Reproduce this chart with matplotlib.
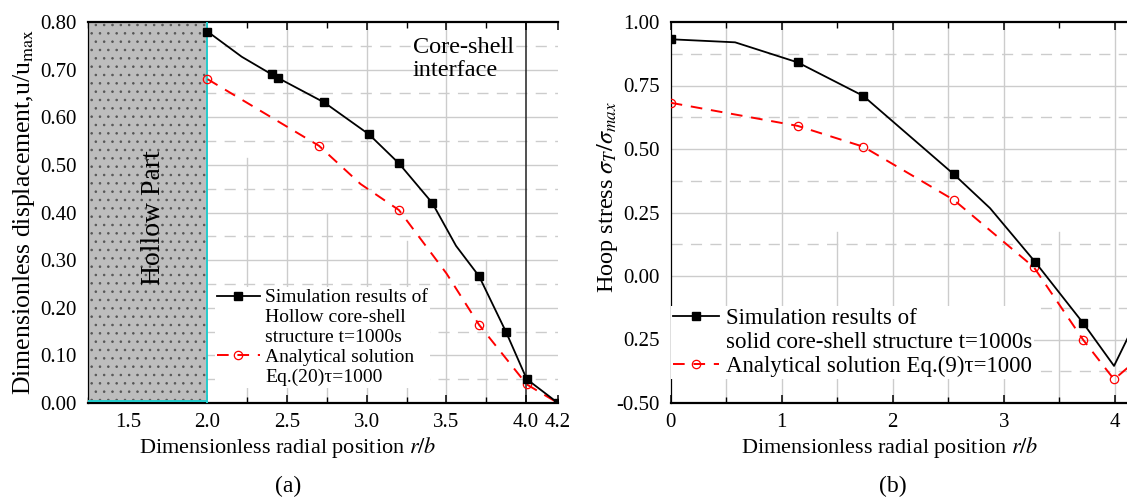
import numpy as np
import matplotlib
matplotlib.use("Agg")
import matplotlib.pyplot as plt
from matplotlib.lines import Line2D

plt.rcParams['font.family'] = ['Liberation Serif', 'DejaVu Serif']
plt.rcParams['mathtext.fontset'] = 'stix'
plt.rcParams['hatch.linewidth'] = 0.6

# (a) hollow core-shell particle: displacement u/u_max
r_hollow_sim = [2.0, 2.215, 2.403, 2.44, 2.733, 3.014, 3.202, 3.411, 3.56, 3.705, 3.874, 4.004, 4.2]
u_hollow_sim = [0.780, 0.727, 0.690, 0.683, 0.631, 0.564, 0.503, 0.420, 0.330, 0.266, 0.149, 0.050, 0.0]
mark_hollow_sim = [0, 2, 3, 4, 5, 6, 7, 9, 10, 11, 12]

r_hollow_ana = [2.0, 2.70, 2.96, 3.202, 3.50, 3.705, 4.004, 4.2]
u_hollow_ana = [0.680, 0.540, 0.460, 0.405, 0.272, 0.164, 0.039, 0.0]
mark_hollow_ana = [0, 1, 3, 5, 6]

# (b) solid core-shell particle: hoop stress
r_solid_sim = [0.0, 0.58, 1.144, 1.735, 2.552, 2.877, 3.282, 3.717, 3.994, 4.2]
s_solid_sim = [0.932, 0.920, 0.841, 0.709, 0.400, 0.267, 0.056, -0.186, -0.354, -0.17]
mark_solid_sim = [0, 2, 3, 4, 6, 7]

r_solid_ana = [0.0, 1.144, 1.735, 2.552, 3.273, 3.717, 3.994, 4.2]
s_solid_ana = [0.682, 0.591, 0.509, 0.299, 0.034, -0.252, -0.407, -0.33]
mark_solid_ana = [0, 1, 2, 3, 4, 5, 6]

xticks_a = [1.5, 2.0, 2.5, 3.0, 3.5, 4.0, 4.2]
xticklabels_a = ['1.5', '2.0', '2.5', '3.0', '3.5', '4.0', '4.2']
yticks_a = [0.0, 0.1, 0.2, 0.3, 0.4, 0.5, 0.6, 0.7, 0.8]
yticklabels_a = ['0.00', '0.10', '0.20', '0.30', '0.40', '0.50', '0.60', '0.70', '0.80']

xticks_b = [0, 1, 2, 3, 4]
xticklabels_b = ['0', '1', '2', '3', '4']
yticks_b = [-0.5, -0.25, 0.0, 0.25, 0.5, 0.75, 1.0]
yticklabels_b = ['-0.50', '0.25', '0.00', '0.25', '0.50', '0.75', '1.00']

W, H = 1127, 499
GRID = '#cccccc'
fig = plt.figure(figsize=(W / 100, H / 100), dpi=100)
ax1 = fig.add_axes([88 / W, 96 / H, 470 / W, 381 / H])
ax2 = fig.add_axes([670.7 / W, 96 / H, 466.2 / W, 381 / H])


def style_axes(ax):
    ax.spines['right'].set_visible(False)
    ax.spines['top'].set_linewidth(1.6)
    ax.spines['bottom'].set_linewidth(1.6)
    ax.spines['left'].set_linewidth(0.9)
    ax.tick_params(axis='x', which='both', direction='in', top=True, labelsize=15, pad=7)
    ax.tick_params(axis='x', which='major', length=6, width=1.1)
    ax.tick_params(axis='x', which='minor', length=4, width=1.0)
    ax.tick_params(axis='y', which='both', length=0, labelsize=15, pad=8)


# ---------- (a) ----------
ax1.set_xlim(1.25, 4.2)
ax1.set_ylim(0, 0.8)
for y in np.arange(0.1, 0.8, 0.1):
    ax1.axhline(y, color=GRID, lw=1.0, zorder=0)
for y in np.arange(0.05, 0.8, 0.1):
    ax1.axhline(y, color=GRID, lw=1.0, dashes=(8, 6), zorder=0)
for x in [2.5, 3.0, 3.5]:
    ax1.axvline(x, color=GRID, lw=1.0, zorder=0)
for x, top in [(2.25, 0.514), (2.75, 0.40), (3.25, 0.34), (3.75, 0.30)]:
    ax1.axvline(x, ymax=top / 0.8, color=GRID, lw=1.0, zorder=0)
ax1.axvline(4.0, color='#222222', lw=1.1, zorder=1)

# hollow region: grey with a dot pattern, cyan border
ax1.fill_between([1.25, 2.0], 0, 0.8, facecolor='#bdbdbd', edgecolor='none', zorder=2)
ax1.fill_between([1.25, 2.0], 0, 0.8, facecolor='none', edgecolor='#555555',
                 hatch='..', linewidth=0, zorder=2)
ax1.plot([2.0, 2.0], [0, 0.8], color='#22cccc', lw=1.4, zorder=3)
ax1.plot([1.25, 2.0], [0.004, 0.004], color='#22cccc', lw=1.4, zorder=3)
ax1.text(1.66, 0.39, 'Hollow Part', rotation=90, ha='center', va='center',
         fontsize=20, zorder=4)
ax1.text(3.29, 0.722, 'Core-shell\ninterface', ha='left', va='center', fontsize=17.5,
         linespacing=1.15, zorder=4)

ax1.plot(r_hollow_ana, u_hollow_ana, color='red', lw=1.4, dashes=(6, 4.5),
         marker='o', markersize=6, markerfacecolor='none', markeredgewidth=0.9,
         markevery=mark_hollow_ana, zorder=5)
ax1.plot(r_hollow_sim, u_hollow_sim, color='black', lw=1.3, marker='s',
         markersize=6, markevery=mark_hollow_sim, zorder=6)

ax1.set_xticks(xticks_a)
ax1.set_xticklabels(xticklabels_a)
ax1.set_xticks(np.arange(1.25, 4.2, 0.25), minor=True)
ax1.set_yticks(yticks_a)
ax1.set_yticklabels(yticklabels_a)
style_axes(ax1)

sim_a = Line2D([], [], color='black', lw=1.3, marker='s', markersize=6)
ana_a = Line2D([], [], color='red', lw=1.4, dashes=(6, 4.5), marker='o', markersize=6,
               markerfacecolor='none', markeredgewidth=0.9)
blank = Line2D([], [], color='none')
leg1 = ax1.legend([sim_a, blank, blank, ana_a, blank],
                  ['Simulation results of', 'Hollow core-shell', 'structure t=1000s',
                   'Analytical solution', 'Eq.(20)\u03c4=1000'],
                  loc='upper left', bbox_to_anchor=(0.27, 0.305), fontsize=14,
                  frameon=True, fancybox=False, edgecolor='none', framealpha=1,
                  handlelength=2.2, handletextpad=0.3, labelspacing=0.12,
                  borderpad=0.1, borderaxespad=0)
leg1.set_zorder(4)

# ---------- (b) ----------
ax2.set_xlim(0, 4.2)
ax2.set_ylim(-0.5, 1.0)
for y in [-0.25, 0.0, 0.25, 0.5, 0.75]:
    ax2.axhline(y, color=GRID, lw=1.0, zorder=0)
for y in np.arange(-0.375, 1.0, 0.25):
    ax2.axhline(y, color=GRID, lw=1.0, dashes=(8, 6), zorder=0)
for x in [0.5, 1.0, 2.0, 2.5, 3.0, 4.0]:
    ax2.axvline(x, color=GRID, lw=1.0, zorder=0)
for x in [1.5, 3.5]:
    ax2.axvline(x, ymax=0.45, color=GRID, lw=1.0, zorder=0)

ax2.plot(r_solid_ana, s_solid_ana, color='red', lw=1.4, dashes=(6, 4.5),
         marker='o', markersize=6, markerfacecolor='none', markeredgewidth=0.9,
         markevery=mark_solid_ana, zorder=5)
ax2.plot(r_solid_sim, s_solid_sim, color='black', lw=1.3, marker='s',
         markersize=6, markevery=mark_solid_sim, zorder=6)

ax2.set_xticks(xticks_b)
ax2.set_xticklabels(xticklabels_b)
ax2.set_xticks(np.arange(0, 4.2, 0.5), minor=True)
ax2.set_yticks(yticks_b)
ax2.set_yticklabels(yticklabels_b)
style_axes(ax2)

sim_b = Line2D([], [], color='black', lw=1.3, marker='s', markersize=6)
ana_b = Line2D([], [], color='red', lw=1.4, dashes=(6, 4.5), marker='o', markersize=6,
               markerfacecolor='none', markeredgewidth=0.9)
leg2 = ax2.legend([sim_b, blank, ana_b],
                  ['Simulation results of', 'solid core-shell structure t=1000s',
                   'Analytical solution Eq.(9)\u03c4=1000'],
                  loc='upper left', bbox_to_anchor=(0.0, 0.255), fontsize=16.5,
                  frameon=True, fancybox=False, edgecolor='none', framealpha=1,
                  handlelength=2.0, handletextpad=0.3, labelspacing=0.12,
                  borderpad=0.1, borderaxespad=0)
leg2.set_zorder(4)

# axis titles and panel tags
fig.text(288 / W, 1 - 448 / H, 'Dimensionless radial position $r/b$',
         ha='center', va='center', fontsize=16)
fig.text(890 / W, 1 - 448 / H, 'Dimensionless radial position $r/b$',
         ha='center', va='center', fontsize=16)
fig.text(24 / W, 1 - 212 / H, 'Dimensionless displacement,u/u$_{\\mathrm{max}}$',
         ha='center', va='center', rotation=90, fontsize=18.5)
fig.text(607 / W, 1 - 197 / H, 'Hoop stress $\\sigma_T/\\sigma_{max}$',
         ha='center', va='center', rotation=90, fontsize=17.5)
fig.text(288 / W, 1 - 486 / H, '(a)', ha='center', va='center', fontsize=17)
fig.text(893 / W, 1 - 486 / H, '(b)', ha='center', va='center', fontsize=17)

fig.savefig('out.png', dpi=100)
